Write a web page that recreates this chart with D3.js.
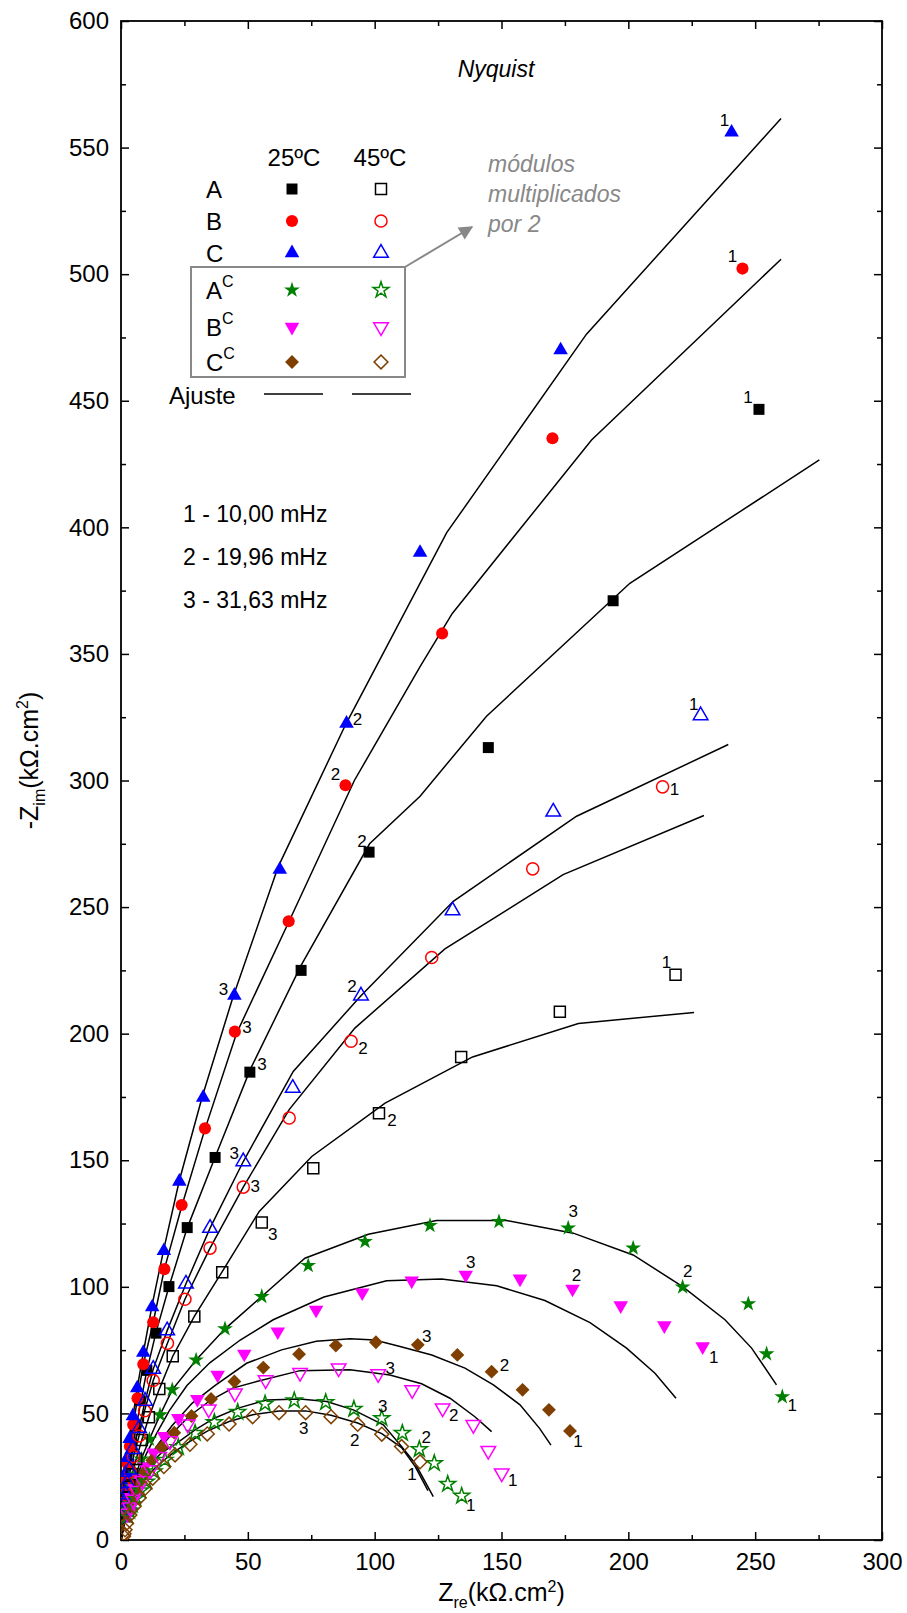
<!DOCTYPE html>
<html>
<head>
<meta charset="utf-8">
<script src="https://cdn.jsdelivr.net/npm/d3@7"></script>
<style>
  body { margin: 0; background: #fff; }
  svg { display: block; font-family: Arial, "Liberation Sans", sans-serif; }
</style>
</head>
<body>
<div id="chart"></div>
<script>
// axis ticks
var xTicks = [0, 50, 100, 150, 200, 250, 300];
var xMinor = [25, 75, 125, 175, 225, 275];
var yTicks = [0, 50, 100, 150, 200, 250, 300, 350, 400, 450, 500, 550, 600];
var yMinor = [25, 75, 125, 175, 225, 275, 325, 375, 425, 475, 525, 575];

// measured points [Zre, -Zim], first point = 10 mHz
var dataA25 = [[251.5,446.6],[194,371],[144.8,313],[97.8,271.7],[71,225],[50.8,184.8],[37.1,151.1],[26.1,123.4],[18.9,100.1],[13.8,81.7],[10.2,67],[7.5,55],[5.6,45],[4.2,37],[3.1,30],[2.3,24.5],[1.7,20],[1.3,16],[1,13]];
var dataB25 = [[245,502.2],[170.1,435.2],[126.6,358.1],[88.5,298.1],[66.1,244.4],[44.9,200.8],[33.1,162.6],[23.9,132.3],[17.1,107],[12.7,86],[8.8,69.4],[6.5,56],[4.8,45.5],[3.5,37],[2.6,30],[1.9,24],[1.4,19.5],[1,15.5],[0.8,12.5]];
var dataC25 = [[240.7,556],[173.3,470],[117.9,390],[88.9,322.5],[62.6,264.8],[44.7,215.1],[32.4,174.8],[23,141.6],[16.9,114.2],[12.3,92],[8.8,74],[6.4,60],[4.7,49],[3.4,40],[2.5,32.5],[1.8,26.5],[1.3,21.5],[1,17.5],[0.8,14]];
var dataAC25 = [[260.7,56.6],[254.5,73.5],[247.3,93.3],[221.4,99.9],[201.9,115.3],[176.3,123.2],[149,125.8],[121.8,124.2],[96.2,117.9],[73.8,108.4],[55.5,96.2],[41,83.4],[29.6,71.1],[20.2,59.3],[15.4,49.4],[11.2,39.8],[8,32],[5.8,26],[4.2,21],[3,17],[2.2,13.5]];
var dataBC25 = [[229.3,76.4],[214.2,84.7],[197,92.6],[178,99.2],[157.3,103.2],[135.9,104.7],[114.6,102.4],[95.1,97.7],[76.9,90.9],[61.8,82.3],[48.6,73.5],[38.1,65.2],[30.1,55.6],[22.6,48.1],[17,41],[12.8,34.5],[9.5,29],[7,24.5],[5.2,20.5],[3.9,17],[2.9,14],[2.1,11.5]];
var dataCC25 = [[177,43.1],[168.7,51.4],[158.3,59.3],[146.1,66.5],[132.6,73.1],[117,77.1],[100.5,78.1],[84.7,76.8],[70.2,73.4],[56.1,68.1],[44.7,62.6],[35.5,55.7],[27.8,49],[21,42.4],[16,36.6],[12.3,31.5],[9.5,27],[7.3,23],[5.6,19.5],[4.3,16.5],[3.3,14],[2.5,11.5]];
var dataA45 = [[218.6,223.3],[173,208.7],[134.1,190.8],[101.7,168.6],[75.8,146.8],[55.5,125.4],[39.9,105.8],[28.9,88.3],[20.4,72.6],[15.1,59.6],[11,48.5],[8.2,39.5],[6,32],[4.4,26],[3.2,21],[2.4,17],[1.8,14],[1.3,11.5],[1,9.5]];
var dataB45 = [[213.5,297.5],[162.3,265.1],[122.5,230.1],[90.7,197],[66.3,166.7],[48.2,139.4],[35.1,115.3],[25.2,95.1],[18.3,77.7],[12.7,63],[9.3,51.1],[7.1,41.1],[4.9,33],[3.6,27],[2.7,22],[2,18],[1.5,14.5],[1.1,12],[0.8,10]];
var dataC45 = [[228.5,325.7],[170.4,287.6],[130.7,248.6],[94.6,215],[67.7,178.5],[48.2,149.5],[35.1,123.2],[25.6,101.2],[18.2,82.7],[12.7,67.5],[9.5,54.9],[7.1,44.1],[4.6,35.8],[3.3,27.7],[2.5,22.5],[1.8,18],[1.3,14.5],[1,11.5],[0.8,9]];
var dataAC45 = [[134.3,17.4],[128.8,22.1],[123.5,30.3],[117.6,35.8],[110.9,42.2],[102.8,48.1],[91.8,51.7],[80.7,54.4],[68.3,55.1],[56.8,53.8],[46,50.5],[36.8,46.5],[29.2,42.2],[22.6,36.6],[17.3,31.6],[13,27],[10,23],[7.6,19.5],[5.8,16.5],[4.4,14],[3.3,11.5],[2.5,9.5]];
var dataBC45 = [[150.1,26.4],[144.8,35.3],[138.9,45.5],[126.8,52.1],[114.8,59.3],[101.4,65.6],[85.8,67.9],[70.6,66.1],[57,63.2],[44.9,58],[34.6,51.7],[26.3,45.7],[19.3,39.1],[15.1,32.9],[11.7,27.7],[8.4,23.4],[6.3,19.5],[4.7,16],[3.5,13],[2.6,10.5]];
var dataCC45 = [[117.9,30.9],[110.6,36.9],[102.8,41.8],[93.3,45.7],[82.8,48.7],[72.8,50.3],[62.3,50.3],[51.9,48.7],[42.6,45.8],[34,41.9],[27.2,37.8],[21.3,33.6],[16.9,29],[12.5,24.4],[9.5,20.4],[7.2,16.7],[5.1,13.2],[3.5,9.9],[2.2,6.6],[1.6,4],[1.2,2.5],[1,1.5]];

// fitted curves (Ajuste)
var fitA25 = [[0,0],[1.5,14],[3,26],[5.5,42],[7.5,53],[10,66],[13.8,82],[18.9,100],[26,123],[37,151],[51,186],[71,227],[98,275],[117.9,293.8],[144.1,325.4],[200.6,377.9],[275.3,426.6]];
var fitB25 = [[0,0],[1,14],[2.6,29],[4.8,45],[6.5,56],[8.8,69.4],[12.7,86],[17.1,107],[24,132],[33,162],[45.5,200],[67,246],[92,300],[117.9,345],[130.6,366],[185.5,434.5],[260.2,505.9]];
var fitC25 = [[0,0],[1,16],[2.5,31],[4.6,48],[6.4,60],[8.8,74],[12.3,93],[16.9,115],[23,142],[32,175],[44,214],[62,266],[88.5,322],[128.4,397.9],[183.5,476.3],[260.2,561.5]];
var fitAC25 = [[0,0],[2.2,13.5],[4.2,21],[8,32],[11.2,39.8],[15.4,49.4],[20.2,59.3],[29.6,71.1],[41,83.4],[55.5,96.2],[72.5,111.3],[97.5,120.8],[124.4,126.2],[152,126.2],[178.3,121.2],[201.9,112.6],[221.4,100.1],[238.1,87],[248.6,75.8],[258.4,61.3]];
var fitBC25 = [[0,0],[2,12],[4,19.5],[7,27],[10,34],[14,42],[19,51],[26,61],[35,70],[47,79],[60,87],[80,96],[104.7,102.4],[126.4,103.1],[148.1,100.4],[167.1,94.6],[184.9,85.9],[199.3,75.8],[210.5,65.9],[218.8,56]];
var fitCC25 = [[0,0],[2,11],[4,17.5],[7,24],[10,30],[14,37],[20,45],[28,54],[37,61],[49.5,69.8],[63.3,75.1],[77,78.5],[90.3,79.5],[100,79],[110,76.4],[122.5,73.1],[135.6,67.9],[146.8,61.3],[157.3,53.4],[165,44.1],[169.5,37.5]];
var fitA45 = [[0,0],[1.8,14],[3.2,21],[4.4,26],[6,32],[8.2,39.5],[11,48.5],[15.1,59.6],[20.4,72.6],[28.9,88.3],[39.9,106],[54.5,129.8],[75.2,151.5],[104.1,172.6],[138.6,190.8],[180.3,204],[225.9,208.4]];
var fitB45 = [[0,0],[1,10],[2,17],[3.6,27],[4.9,33],[7.1,41.1],[9.3,51.1],[12.7,63],[18.3,77.7],[25.2,95.1],[35.1,115.3],[48.2,139.4],[66.3,170],[92.2,202.2],[127.7,233.5],[174.3,262.8],[229.8,286.2]];
var fitC45 = [[0,0],[1,12],[2,20],[3.3,27.7],[4.6,35.8],[7.1,44.1],[9.5,54.9],[12.7,67.5],[18.2,82.7],[25.6,101.2],[35.1,123.2],[48.2,149.5],[67.9,185.1],[94.6,215],[131,252.3],[179.6,285.9],[239.4,314.2]];
var fitAC45 = [[0,0],[1.5,8],[3,13.5],[5,19],[8,25],[11.5,30],[16,34.5],[21.9,38.2],[29.2,43.5],[36.8,48.1],[46.2,52.1],[57.4,55.3],[70.6,55.7],[81.1,54.7],[91.6,51.4],[103.4,45.5],[110.6,36.9],[115.9,30.3],[123.1,17.1]];
var fitBC45 = [[0,0],[2,10],[4,16],[6.5,21],[9,26],[12,31],[16,37],[21,43],[27,49],[35,55],[44,60],[53.5,62.6],[70.6,66.9],[90.3,67.2],[106,65.2],[118.5,61.7],[129.7,56],[139.5,48.7],[146.1,42.8]];
var fitCC45 = [[0,0],[1,5],[2,9],[3.5,13],[5.1,16.5],[7.2,20],[9.5,24],[12.5,27.5],[16.9,31.5],[21.3,35],[27.2,39],[34,43],[42.6,46.8],[51.9,49.5],[62.3,51],[72.8,51],[82.8,49.3],[93.3,46.2],[102.8,42],[110.6,36.5],[116,29],[121,19.5]];

// frequency marks: series, point index, text
var freqMarks = [
  ["C25",0,"1"],["C25",3,"2"],["C25",5,"3"],
  ["B25",0,"1"],["B25",3,"2"],["B25",5,"3"],
  ["A25",0,"1"],["A25",3,"2"],["A25",5,"3"],
  ["C45",0,"1"],["C45",3,"2"],["C45",5,"3"],
  ["B45",0,"1"],["B45",3,"2"],["B45",5,"3"],
  ["A45",0,"1"],["A45",3,"2"],["A45",5,"3"],
  ["AC25",0,"1"],["AC25",3,"2"],["AC25",5,"3"],
  ["BC25",0,"1"],["BC25",3,"2"],["BC25",5,"3"],
  ["CC25",0,"1"],["CC25",3,"2"],["CC25",5,"3"],
  ["AC45",0,"1"],["AC45",3,"2"],["AC45",5,"3"],
  ["BC45",0,"1"],["BC45",3,"2"],["BC45",5,"3"],
  ["CC45",0,"1"],["CC45",3,"2"],["CC45",5,"3"]
];
var freqNotes = ["1 - 10,00 mHz", "2 - 19,96 mHz", "3 - 31,63 mHz"];

var data = {A25:dataA25, B25:dataB25, C25:dataC25, AC25:dataAC25, BC25:dataBC25, CC25:dataCC25,
            A45:dataA45, B45:dataB45, C45:dataC45, AC45:dataAC45, BC45:dataBC45, CC45:dataCC45};
var fits = [fitA25, fitB25, fitC25, fitAC25, fitBC25, fitCC25, fitA45, fitB45, fitC45, fitAC45, fitBC45, fitCC45];

// label nudges in px (layout only), label centre relative to marker
var nudge = {
  "C25-1":[-7,-12],"C25-2":[11,-5],"C25-3":[-11,-6],
  "B25-1":[-10,-13],"B25-2":[-10,-11],"B25-3":[12,-5],
  "A25-1":[-11,-12],"A25-2":[-7,-11],"A25-3":[12,-8],
  "C45-1":[-7,-11],"C45-2":[-9,-10],"C45-3":[-9,-9],
  "B45-1":[12,2],"B45-2":[12,7],"B45-3":[12,-1],
  "A45-1":[-9,-13],"A45-2":[13,7],"A45-3":[11,11],
  "AC25-1":[10,8],"AC25-2":[5,-16],"AC25-3":[5,-17],
  "BC25-1":[11,10],"BC25-2":[4,-14],"BC25-3":[5,-13],
  "CC25-1":[8,10],"CC25-2":[13,-7],"CC25-3":[9,-9],
  "AC45-1":[9,9],"AC45-2":[7,-12],"AC45-3":[1,-12],
  "BC45-1":[11,7],"BC45-2":[11,7],"BC45-3":[12,-6],
  "CC45-1":[-8,12],"CC45-2":[-3,16],"CC45-3":[-2,15]
};

var styles = {
  A:  {color:"#000000", type:d3.symbolSquare,   size:121, rot:0},
  B:  {color:"#ff0000", type:d3.symbolCircle,   size:115, rot:0},
  C:  {color:"#0000ff", type:d3.symbolTriangle, size:92,  rot:0},
  AC: {color:"#008000", type:d3.symbolStar,     size:78,  rot:0},
  BC: {color:"#ff00ff", type:d3.symbolTriangle, size:92,  rot:180},
  CC: {color:"#7f3f00", type:d3.symbolSquare,   size:96,  rot:45}
};

var W = 907, H = 1613;
var x = d3.scaleLinear().domain([0, 300]).range([121, 882]);
var y = d3.scaleLinear().domain([0, 600]).range([1540, 21]);

var svg = d3.select("#chart").append("svg")
  .attr("width", W)
  .attr("height", H);

svg.append("defs").append("clipPath").attr("id", "clip")
  .append("rect")
    .attr("x", x(0)).attr("y", y(600))
    .attr("width", x(300) - x(0)).attr("height", y(0) - y(600));

// axes, ticks inside on all four sides
function styleAxis(g) {
  g.select(".domain").remove();
  g.selectAll(".tick line").attr("stroke", "#000").attr("stroke-width", 1.5);
  g.selectAll(".tick text").attr("fill", "#000").attr("font-size", 24).attr("font-family", "Arial, 'Liberation Sans', sans-serif");
}
svg.append("g").attr("transform", "translate(0," + y(0) + ")")
  .call(d3.axisBottom(x).tickValues(xTicks).tickSize(-8).tickPadding(13)).call(styleAxis);
svg.append("g").attr("transform", "translate(0," + y(0) + ")")
  .call(d3.axisBottom(x).tickValues(xMinor).tickSize(-5).tickFormat("")).call(styleAxis);
svg.append("g").attr("transform", "translate(0," + y(600) + ")")
  .call(d3.axisTop(x).tickValues(xTicks).tickSize(-8).tickFormat("")).call(styleAxis);
svg.append("g").attr("transform", "translate(0," + y(600) + ")")
  .call(d3.axisTop(x).tickValues(xMinor).tickSize(-5).tickFormat("")).call(styleAxis);
svg.append("g").attr("transform", "translate(" + x(0) + ",0)")
  .call(d3.axisLeft(y).tickValues(yTicks).tickSize(-8).tickPadding(12)).call(styleAxis);
svg.append("g").attr("transform", "translate(" + x(0) + ",0)")
  .call(d3.axisLeft(y).tickValues(yMinor).tickSize(-5).tickFormat("")).call(styleAxis);
svg.append("g").attr("transform", "translate(" + x(300) + ",0)")
  .call(d3.axisRight(y).tickValues(yTicks).tickSize(-8).tickFormat("")).call(styleAxis);
svg.append("g").attr("transform", "translate(" + x(300) + ",0)")
  .call(d3.axisRight(y).tickValues(yMinor).tickSize(-5).tickFormat("")).call(styleAxis);

svg.append("rect")
  .attr("x", x(0)).attr("y", y(600))
  .attr("width", x(300) - x(0)).attr("height", y(0) - y(600))
  .attr("fill", "none").attr("stroke", "#000").attr("stroke-width", 1.8);

// axis titles
var xt = svg.append("text")
  .attr("x", (x(0) + x(300)) / 2).attr("y", 1601)
  .attr("text-anchor", "middle").attr("font-size", 25);
xt.append("tspan").text("Z");
xt.append("tspan").attr("font-size", 16).attr("dy", 7).text("re");
xt.append("tspan").attr("dy", -7).text("(k\u03A9.cm");
xt.append("tspan").attr("font-size", 16).attr("dy", -9).text("2");
xt.append("tspan").attr("dy", 9).text(")");

var yt = svg.append("text")
  .attr("transform", "translate(38," + ((y(0) + y(600)) / 2 - 20) + ") rotate(-90)")
  .attr("text-anchor", "middle").attr("font-size", 25);
yt.append("tspan").text("-Z");
yt.append("tspan").attr("font-size", 16).attr("dy", 7).text("im");
yt.append("tspan").attr("dy", -7).text("(k\u03A9.cm");
yt.append("tspan").attr("font-size", 16).attr("dy", -10).text("2");
yt.append("tspan").attr("dy", 10).text(")");

// fitted lines
var line = d3.line().x(function(d) { return x(d[0]); }).y(function(d) { return y(d[1]); });
var plot = svg.append("g").attr("clip-path", "url(#clip)");
plot.selectAll("path.fit")
  .data(fits)
  .enter().append("path")
    .attr("class", "fit")
    .attr("d", line)
    .attr("fill", "none")
    .attr("stroke", "#000")
    .attr("stroke-width", 1.5);

function symbolPath(st) {
  return d3.symbol().type(st.type).size(st.size)();
}

// markers: filled for 25 C, open for 45 C
var order = ["A25","B25","C25","AC25","BC25","CC25","A45","B45","C45","AC45","BC45","CC45"];
order.forEach(function(key) {
  var kind = key.replace(/\d+$/, "");
  var open = /45$/.test(key);
  var st = styles[kind];
  plot.append("g").selectAll("path")
    .data(data[key])
    .enter().append("path")
      .attr("d", symbolPath(st))
      .attr("transform", function(d) { return "translate(" + x(d[0]) + "," + y(d[1]) + ") rotate(" + st.rot + ")"; })
      .attr("fill", open ? "none" : st.color)
      .attr("stroke", open ? st.color : "none")
      .attr("stroke-width", 1.5);
});

// frequency labels 1/2/3
svg.append("g").selectAll("text")
  .data(freqMarks)
  .enter().append("text")
    .attr("x", function(d) { return x(data[d[0]][d[1]][0]) + nudge[d[0] + "-" + d[2]][0]; })
    .attr("y", function(d) { return y(data[d[0]][d[1]][1]) + nudge[d[0] + "-" + d[2]][1] + 6; })
    .attr("text-anchor", "middle")
    .attr("font-size", 17)
    .text(function(d) { return d[2]; });

// title
svg.append("text").attr("x", 496).attr("y", 77)
  .attr("text-anchor", "middle").attr("font-size", 23).attr("font-style", "italic")
  .text("Nyquist");

// legend
var leg = svg.append("g").attr("font-size", 24);
leg.append("text").attr("x", 294).attr("y", 166).attr("text-anchor", "middle").text("25\u00BAC");
leg.append("text").attr("x", 380).attr("y", 166).attr("text-anchor", "middle").text("45\u00BAC");
var legRows = [
  {k:"A", label:"A", sup:"", y:189},
  {k:"B", label:"B", sup:"", y:221},
  {k:"C", label:"C", sup:"", y:253},
  {k:"AC", label:"A", sup:"C", y:290},
  {k:"BC", label:"B", sup:"C", y:327},
  {k:"CC", label:"C", sup:"C", y:362}
];
legRows.forEach(function(r) {
  var st = styles[r.k];
  var t = leg.append("text").attr("x", 206).attr("y", r.y + 9);
  t.append("tspan").text(r.label);
  if (r.sup) t.append("tspan").attr("font-size", 16).attr("dy", -12).text(r.sup);
  leg.append("path").attr("d", symbolPath(st))
    .attr("transform", "translate(292," + r.y + ") rotate(" + st.rot + ")")
    .attr("fill", st.color);
  leg.append("path").attr("d", symbolPath(st))
    .attr("transform", "translate(381," + r.y + ") rotate(" + st.rot + ")")
    .attr("fill", "none").attr("stroke", st.color).attr("stroke-width", 1.5);
});
leg.append("rect").attr("x", 191).attr("y", 267).attr("width", 214).attr("height", 110)
  .attr("fill", "none").attr("stroke", "#888").attr("stroke-width", 2);
leg.append("text").attr("x", 169).attr("y", 404).text("Ajuste");
leg.append("line").attr("x1", 264).attr("x2", 323).attr("y1", 394).attr("y2", 394)
  .attr("stroke", "#000").attr("stroke-width", 1.5);
leg.append("line").attr("x1", 352).attr("x2", 411).attr("y1", 394).attr("y2", 394)
  .attr("stroke", "#000").attr("stroke-width", 1.5);

// arrow and note
svg.append("defs").append("marker")
  .attr("id", "head").attr("viewBox", "0 0 10 10").attr("refX", 9).attr("refY", 5)
  .attr("markerWidth", 20).attr("markerHeight", 14).attr("markerUnits", "userSpaceOnUse")
  .attr("orient", "auto")
  .append("path").attr("d", "M0,0L10,5L0,10z").attr("fill", "#888");
svg.append("line").attr("x1", 405).attr("y1", 267).attr("x2", 472).attr("y2", 227)
  .attr("stroke", "#888").attr("stroke-width", 2).attr("marker-end", "url(#head)");
var note = svg.append("text").attr("font-size", 23).attr("font-style", "italic").attr("fill", "#888");
note.append("tspan").attr("x", 488).attr("y", 172).text("m\u00F3dulos");
note.append("tspan").attr("x", 488).attr("y", 202).text("multiplicados");
note.append("tspan").attr("x", 488).attr("y", 232).text("por 2");

// frequency legend
svg.append("g").selectAll("text")
  .data(freqNotes)
  .enter().append("text")
    .attr("x", 183)
    .attr("y", function(d, i) { return 522 + i * 43; })
    .attr("font-size", 23)
    .text(function(d) { return d; });
</script>
</body>
</html>
